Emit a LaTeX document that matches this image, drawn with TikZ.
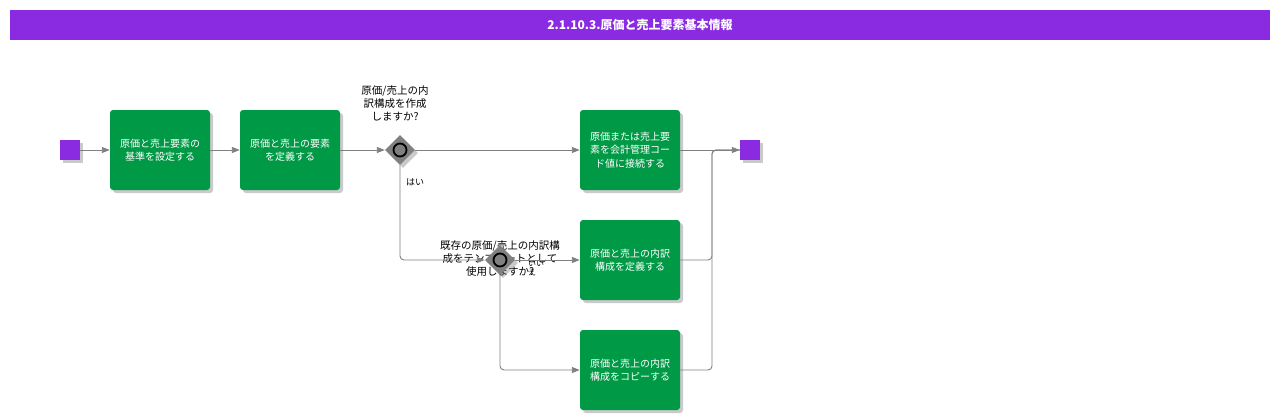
\documentclass[tikz,border=0pt]{standalone}
\usepackage{fontspec}
\setmainfont{Noto Sans CJK JP}
\usetikzlibrary{shadows,shapes.geometric,arrows.meta}
\definecolor{hdr}{HTML}{8A2BE2}
\definecolor{tgreen}{HTML}{009A47}
\definecolor{edge}{HTML}{808080}
\definecolor{gw}{HTML}{808080}
\tikzset{
  x=1pt,y=-1pt,
  shd/.style={drop shadow={shadow xshift=3pt,shadow yshift=-3pt,opacity=0.35,fill=black!60}},
  taskbox/.style={shd,fill=tgreen,rounded corners=3pt,minimum width=100pt,minimum height=80pt,
    text width=92pt,align=center,text=white,font=\fontsize{10}{13.5}\selectfont,inner sep=0pt},
  evbox/.style={shd,fill=hdr,minimum width=20pt,minimum height=20pt,inner sep=0pt},
  gwbox/.style={shd,diamond,fill=gw,minimum width=30pt,minimum height=30pt,inner sep=0pt},
  ring/.style={circle,draw=black,line width=1.8pt,fill=gw,minimum size=13pt,inner sep=0pt},
  lbl/.style={align=center,font=\fontsize{10.5}{13}\selectfont,text=black,inner sep=0pt},
  flow/.style={draw=edge,line width=0.9pt,-{Triangle[length=8pt,width=6pt]},rounded corners=4pt},
  merge/.style={draw=edge,line width=0.9pt,rounded corners=4pt},
}
\begin{document}
\begin{tikzpicture}
\useasboundingbox (0,0) rectangle (1280,420);
\node[fill=hdr,minimum width=1260pt,minimum height=30pt,inner sep=0pt,text=white,font=\bfseries\fontsize{12}{14}\selectfont] (hdr) at (640,25) {2.1.10.3.原価と売上要素基本情報};

\node[evbox] (start) at (70,150) {};
\node[taskbox] (t1) at (160,150) {原価と売上要素の\\基準を設定する};
\node[taskbox] (t2) at (290,150) {原価と売上の要素\\を定義する};
\node[lbl] (l1) at (395,103) {原価/売上の内\\訳構成を作成\\しますか?};
\node[gwbox] (g1) at (400,150) {};
\node[ring] (r1) at (g1.center) {};
\node[taskbox] (t3) at (630,150) {原価または売上要\\素を会計管理コー\\ド値に接続する};
\node[evbox] (end) at (750,150) {};

\node[lbl] (l2) at (500,259) {既存の原価/売上の内訳構\\成をテンプレートとして\\使用しますか?};
\node[gwbox] (g2) at (500,260) {};
\node[ring] (r2) at (g2.center) {};
\node[taskbox] (t4) at (630,260) {原価と売上の内訳\\構成を定義する};
\node[taskbox] (t5) at (630,370) {原価と売上の内訳\\構成をコピーする};

\node[lbl,font=\fontsize{9}{10}\selectfont] (yes) at (415,182) {はい};
\node[lbl,font=\fontsize{8}{9}\selectfont,align=left] (no) at (536,268) {いい\\え};

\coordinate (m) at (712,150);
\coordinate (c1) at (400,260);
\coordinate (c2) at (500,370);
\coordinate (c4) at (712,260);
\coordinate (c5) at (712,370);

\draw[flow] (start.east) -- (t1.west);
\draw[flow] (t1.east) -- (t2.west);
\draw[flow] (t2.east) -- (g1.west);
\draw[flow] (g1.east) -- (t3.west);
\draw[flow] (g1.south) -- (c1) -- (g2.west);
\draw[flow] (g2.east) -- (t4.west);
\draw[flow] (g2.south) -- (c2) -- (t5.west);
\draw[flow] (t3.east) -- (end.west);
\draw[merge] (t4.east) -- (c4) -- (m) -- (end.west);
\draw[merge] (t5.east) -- (c5) -- (m) -- (end.west);
\end{tikzpicture}
\end{document}
